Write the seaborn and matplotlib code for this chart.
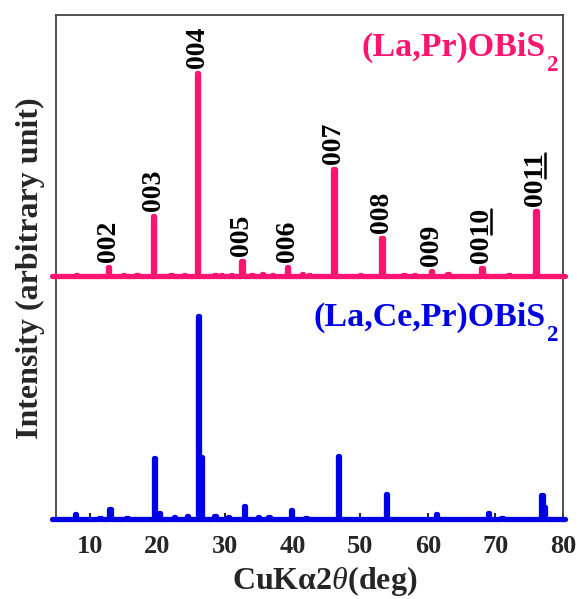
import numpy as np
import pandas as pd
import matplotlib
matplotlib.use("Agg")
import matplotlib.pyplot as plt
from matplotlib.lines import Line2D
import seaborn as sns

sns.set_theme(style="white")
plt.rcParams['font.family'] = ['Liberation Serif', 'DejaVu Serif']
plt.rcParams['mathtext.fontset'] = 'custom'
plt.rcParams['mathtext.rm'] = 'Liberation Serif:bold'
plt.rcParams['mathtext.bf'] = 'Liberation Serif:bold'
plt.rcParams['mathtext.it'] = 'Liberation Serif:italic'

# (La,Pr)OBiS2 peaks: position (deg), height (a.u.)
lp_pos = [8.0, 12.8, 15.0, 17.0, 19.4, 22.0, 24.0, 25.9, 28.5, 29.5, 31.0, 32.5, 34.0,
          35.5, 37.0, 39.2, 41.5, 42.5, 46.1, 50.0, 53.2, 56.5, 58.0, 60.5, 63.0,
          68.0, 72.0, 76.0]
lp_h = [0.8, 9, 1.0, 1.0, 60, 1.5, 1.0, 203, 1.5, 1.0, 1.5, 15, 1.0,
        2.0, 1.0, 9, 2.0, 1.5, 107, 1.0, 38, 1.5, 1.0, 5, 2.0,
        8, 1.0, 65]
lp_labels = ["002", "003", "004", "005", "006", "007", "008", "009", "0010", "0011"]
lp_underlined = [0, 0, 0, 0, 0, 0, 0, 0, 2, 2]   # trailing digits underlined
lp_label_pos = [12.8, 19.4, 25.9, 32.5, 39.2, 46.1, 53.2, 60.5, 68.0, 76.0]
lp_label_h = [9, 60, 203, 15, 9, 107, 38, 5, 8, 65]

# (La,Ce,Pr)OBiS2 peaks
lcp_pos = [7.9, 11.5, 13.0, 15.5, 19.6, 20.3, 22.5, 24.5, 26.1, 26.5, 28.5, 30.5,
           32.9, 35.0, 36.5, 39.8, 42.0, 46.8, 53.9, 61.3, 69.0, 71.0, 76.9, 77.2]
lcp_h = [5, 1.5, 10, 1.5, 61, 6, 2, 3, 203, 62, 3.5, 2,
         13, 2.5, 2.5, 9, 1, 63, 25, 5, 6, 1.5, 24, 12]

offset = 243
x_min, x_max = 5, 80


def stick_trace(pos, h, off):
    xs, ys = [x_min - 0.6], [off]
    for p, v in sorted(zip(pos, h)):
        xs += [p - 0.1, p - 0.1, p + 0.1, p + 0.1]
        ys += [off, off + v, off + v, off]
    xs.append(x_max + 0.3)
    ys.append(off)
    return pd.DataFrame({"x": xs, "y": ys})


pink = "#FF1470"
blue = "#0000E6"

fig = plt.figure(figsize=(5.77, 5.99), dpi=100)
ax = fig.add_axes([56 / 577, 1 - 521 / 599, (563 - 56) / 577, (521 - 15) / 599])

d_lcp = stick_trace(lcp_pos, lcp_h, 0)
d_lp = stick_trace(lp_pos, lp_h, offset)
sns.lineplot(data=d_lcp, x="x", y="y", ax=ax, color=blue, lw=3.8, sort=False,
             estimator=None, clip_on=False, zorder=3)
sns.lineplot(data=d_lp, x="x", y="y", ax=ax, color=pink, lw=3.8, sort=False,
             estimator=None, clip_on=False, zorder=3)

texts = []
for lab, p, v in zip(lp_labels, lp_label_pos, lp_label_h):
    t = ax.text(p, offset + v + 5, lab, rotation=90, ha="center", va="bottom",
                fontsize=20, fontweight="bold", color="black")
    texts.append(t)

# compound names with a large, low subscript
for name, ypos, col in [("(La,Pr)OBiS", 0.966, pink), ("(La,Ce,Pr)OBiS", 0.433, blue)]:
    main = ax.text(0.966, ypos, name, transform=ax.transAxes, ha="right",
                   va="top", fontsize=24.5, fontweight="bold", color=col)
    ax.annotate("2", xy=(1, 0), xycoords=main, xytext=(1.0, -5.5),
                textcoords="offset points", ha="left", va="baseline",
                fontsize=16.5, fontweight="bold", color=col)

ax.set_xlim(x_min, x_max)
ax.set_ylim(-2, 504)
ax.set_yticks([])
ax.set_xticks([10, 20, 30, 40, 50, 60, 70, 80])
ax.tick_params(axis="x", direction="in", length=6, width=1.2, color="black",
               labelsize=19, pad=10, bottom=True)
for lbl in ax.get_xticklabels():
    lbl.set_fontweight("bold")
for s in ax.spines.values():
    s.set_color("#444444")
    s.set_linewidth(1.3)

ax.set_xlabel("CuKα2$\\theta$(deg)", fontsize=23, fontweight="bold")
ax.xaxis.set_label_coords(0.53, -0.085)
ax.xaxis.label.set_va("top")
ax.set_ylabel("Intensity (arbitrary unit)", fontsize=23, fontweight="bold",
              labelpad=8)

# underline trailing digits of the rotated labels (to the right of the glyphs)
fig.canvas.draw()
renderer = fig.canvas.get_renderer()
for t, lab, n in zip(texts, lp_labels, lp_underlined):
    if n == 0:
        continue
    bb = t.get_window_extent(renderer)
    frac = 1 - n / len(lab)
    y0 = bb.y0 + frac * bb.height + 1
    y1 = bb.y1 - 1
    xline = bb.x1 - 3.5
    fig.add_artist(Line2D([xline, xline], [y0, y1], transform=None,
                          color="black", lw=1.8))

fig.savefig("out.png", dpi=100)
